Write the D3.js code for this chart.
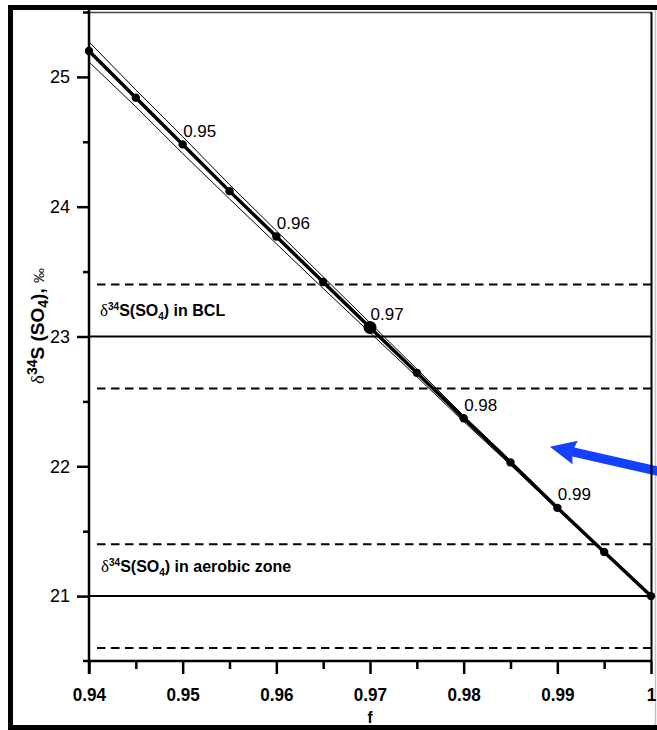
<!DOCTYPE html>
<html>
<head>
<meta charset="utf-8">
<script src="https://cdn.jsdelivr.net/npm/d3@7"></script>
<style>
  html, body { margin: 0; padding: 0; background: #fff; }
  svg { display: block; }
  text { font-family: "Liberation Sans", Arial, Helvetica, sans-serif; fill: #000; }
</style>
</head>
<body>
<svg id="chart" width="657" height="730"></svg>
<script>
// Residual sulfate fraction f and the Rayleigh curve of δ34S(SO4)
const fValues    = [0.94, 0.945, 0.95, 0.955, 0.96, 0.965, 0.97, 0.975, 0.98, 0.985, 0.99, 0.995, 1.0];
const deltaMain  = [25.20, 24.84, 24.48, 24.12, 23.77, 23.42, 23.07, 22.72, 22.37, 22.03, 21.68, 21.34, 21.00];
const deltaUpper = [25.27, 24.90, 24.54, 24.17, 23.815, 23.46, 23.105, 22.75, 22.39, 22.045, 21.69, 21.345, 21.00];
const deltaLower = [25.115, 24.77, 24.41, 24.06, 23.715, 23.37, 23.03, 22.69, 22.345, 22.01, 21.668, 21.335, 21.00];

// f values annotated next to their points
const labelF     = [0.95, 0.96, 0.97, 0.98, 0.99];
const labelText  = ["0.95", "0.96", "0.97", "0.98", "0.99"];
const emphasisF  = 0.97;

// Reference levels: means (solid) and their ranges (dashed)
const solidLevels  = [23, 21];
const dashedLevels = [23.4, 22.6, 21.4, 20.6];

// Axis ticks
const xTicks      = [0.94, 0.95, 0.96, 0.97, 0.98, 0.99, 1.0];
const xTickLabels = ["0.94", "0.95", "0.96", "0.97", "0.98", "0.99", "1"];
const xMinor      = [0.945, 0.955, 0.965, 0.975, 0.985, 0.995];
const yTicks      = [21, 22, 23, 24, 25];
const yTickLabels = ["21", "22", "23", "24", "25"];
const yMinor      = [21.5, 22.5, 23.5, 24.5, 25.5];

// Arrow annotation (tail at right edge, tip pointing into the plot), data units
const arrowTail = [1.0012, 21.955];
const arrowTip  = [0.9892, 22.15];

const svg = d3.select("#chart");

const x = d3.scaleLinear().domain([0.94, 1.0]).range([89, 651]);
const y = d3.scaleLinear().domain([20.5, 25.5]).range([661, 12]);

// outer frame
svg.append("rect").attr("x", 8).attr("y", 5).attr("width", 5).attr("height", 725).attr("fill", "#000");
svg.append("rect").attr("x", 8).attr("y", 5).attr("width", 649).attr("height", 5).attr("fill", "#000");
svg.append("rect").attr("x", 8).attr("y", 725).attr("width", 649).attr("height", 5).attr("fill", "#000");
svg.append("line").attr("x1", 655.5).attr("x2", 655.5).attr("y1", 10).attr("y2", 725)
  .attr("stroke", "#c4c4c4").attr("stroke-width", 1.5);

// plot box: top edge
svg.append("line").attr("x1", 89).attr("x2", 652).attr("y1", 12.5).attr("y2", 12.5)
  .attr("stroke", "#444").attr("stroke-width", 1.5);

// reference levels
svg.append("g").selectAll("line").data(solidLevels).join("line")
  .attr("x1", x(0.94)).attr("x2", x(1.0))
  .attr("y1", d => y(d)).attr("y2", d => y(d))
  .attr("stroke", "#000").attr("stroke-width", 2);
svg.append("g").selectAll("line").data(dashedLevels).join("line")
  .attr("x1", 97).attr("x2", x(1.0))
  .attr("y1", d => y(d)).attr("y2", d => y(d))
  .attr("stroke", "#000").attr("stroke-width", 2)
  .attr("stroke-dasharray", "8.5,5.5");

// level captions
function levelCaption(px, py, tail) {
  const t = svg.append("text").attr("x", px).attr("y", py).attr("font-weight", "bold").attr("font-size", 16);
  t.append("tspan").text("δ").attr("font-family", "'Liberation Serif', 'Times New Roman', serif")
    .attr("font-weight", "normal").attr("font-size", 17);
  t.append("tspan").text("34").attr("font-size", 10).attr("dy", -6);
  t.append("tspan").text("S(SO").attr("dy", 6);
  t.append("tspan").text("4").attr("font-size", 10).attr("dy", 4);
  t.append("tspan").text(")" + tail).attr("dy", -4);
}
levelCaption(100, 316, " in BCL");
levelCaption(101, 572, " in aerobic zone");

// blue arrow (drawn below the plot edge line)
(function drawArrow() {
  const tx = x(arrowTip[0]), ty = y(arrowTip[1]);
  const sx = x(arrowTail[0]), sy = y(arrowTail[1]);
  const len = Math.hypot(sx - tx, sy - ty);
  const ux = (sx - tx) / len, uy = (sy - ty) / len;   // tip -> tail
  const px = -uy, py = ux;                             // perpendicular
  const headLen = 24, headHalf = 12, shaftHalf = 4.6;
  const bx = tx + ux * headLen, by = ty + uy * headLen;
  const pts = [
    [tx, ty],
    [bx + px * headHalf + ux * 2, by + py * headHalf + uy * 2],
    [bx + px * shaftHalf, by + py * shaftHalf],
    [sx + px * shaftHalf, sy + py * shaftHalf],
    [sx - px * shaftHalf, sy - py * shaftHalf],
    [bx - px * shaftHalf, by - py * shaftHalf],
    [bx - px * headHalf + ux * 2, by - py * headHalf + uy * 2]
  ];
  svg.append("path")
    .attr("d", d3.line()(pts) + "Z")
    .attr("fill", "#1441ff");
})();

// envelope lines and main curve
const line = d3.line().x((d, i) => x(fValues[i])).y(d => y(d));
[deltaUpper, deltaLower].forEach(series => {
  svg.append("path").datum(series).attr("d", line)
    .attr("fill", "none").attr("stroke", "#000").attr("stroke-width", 1);
});
svg.append("path").datum(deltaMain).attr("d", line)
  .attr("fill", "none").attr("stroke", "#000").attr("stroke-width", 3.5);

svg.append("g").selectAll("circle").data(fValues).join("circle")
  .attr("cx", d => x(d))
  .attr("cy", (d, i) => y(deltaMain[i]))
  .attr("r", d => Math.abs(d - emphasisF) < 1e-9 ? 6.5 : 4.2)
  .attr("fill", "#000");

// point labels
svg.append("g").selectAll("text").data(labelF).join("text")
  .attr("x", d => x(d) + 0.5)
  .attr("y", d => y(deltaMain[fValues.findIndex(f => Math.abs(f - d) < 1e-9)]) - 7.5)
  .attr("font-size", 17)
  .attr("font-family", "'Liberation Sans Narrow', 'Arial Narrow', 'Liberation Sans', Arial, sans-serif")
  .text((d, i) => labelText[i]);

// right plot edge
svg.append("line").attr("x1", 651.5).attr("x2", 651.5).attr("y1", 12).attr("y2", 661)
  .attr("stroke", "#000").attr("stroke-width", 2);

// axes
const xAxis = svg.append("g").attr("transform", "translate(0,661)")
  .call(d3.axisBottom(x).tickValues(xTicks).tickSize(13).tickPadding(14)
    .tickFormat((d, i) => xTickLabels[i]));
const xAxisMinor = svg.append("g").attr("transform", "translate(0,661)")
  .call(d3.axisBottom(x).tickValues(xMinor).tickSize(8).tickFormat(""));
const yAxis = svg.append("g").attr("transform", "translate(89,0)")
  .call(d3.axisLeft(y).tickValues(yTicks).tickSize(12).tickPadding(7)
    .tickFormat((d, i) => yTickLabels[i]));
const yAxisMinor = svg.append("g").attr("transform", "translate(89,0)")
  .call(d3.axisLeft(y).tickValues(yMinor).tickSize(6).tickFormat(""));

[xAxis, xAxisMinor, yAxis, yAxisMinor].forEach(g => {
  g.select(".domain").remove();
  g.selectAll(".tick line").attr("stroke", "#000").attr("stroke-width", 2.5);
});
// condensed bold tick labels
xAxis.selectAll(".tick text").attr("font-size", 19).attr("font-weight", "bold")
  .attr("font-family", "'Liberation Sans', Arial, sans-serif").attr("fill", "#000")
  .attr("transform", "scale(0.9,1)");
yAxis.selectAll(".tick text").attr("font-size", 18)
  .attr("font-family", "'Liberation Sans', Arial, sans-serif").attr("fill", "#000");

svg.append("line").attr("x1", 83).attr("x2", 652).attr("y1", 661).attr("y2", 661)
  .attr("stroke", "#000").attr("stroke-width", 2.5);
svg.append("line").attr("x1", 89).attr("x2", 89).attr("y1", 10).attr("y2", 674)
  .attr("stroke", "#000").attr("stroke-width", 2.5);

// axis titles
svg.append("text")
  .attr("transform", `translate(${x(0.97)},723) scale(0.9,1)`)
  .attr("text-anchor", "middle")
  .attr("font-size", 17).attr("font-weight", "bold").text("f");

const yTitle = svg.append("text")
  .attr("transform", "translate(44,326) rotate(-90)")
  .attr("text-anchor", "middle").attr("font-size", 19).attr("font-weight", "bold");
yTitle.append("tspan").text("δ").attr("font-family", "'Liberation Serif', 'Times New Roman', serif")
  .attr("font-weight", "normal").attr("font-size", 19);
yTitle.append("tspan").text("34").attr("font-size", 14).attr("dy", -7);
yTitle.append("tspan").text("S (SO").attr("dy", 7);
yTitle.append("tspan").text("4").attr("font-size", 14).attr("dy", 4);
yTitle.append("tspan").text("), ").attr("dy", -4);
yTitle.append("tspan").text("‰").attr("font-weight", "normal").attr("font-size", 15);
</script>
</body>
</html>
